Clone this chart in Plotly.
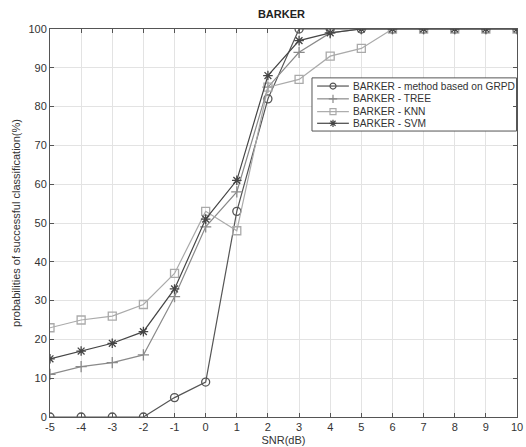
import plotly.graph_objects as go

snr = [-5, -4, -3, -2, -1, 0, 1, 2, 3, 4, 5, 6, 7, 8, 9, 10]
snr_labels = [str(v) for v in snr]
pct_ticks = [0, 10, 20, 30, 40, 50, 60, 70, 80, 90, 100]

grpd = [0, 0, 0, 0, 5, 9, 53, 82, 100, 100, 100, 100, 100, 100, 100, 100]
tree = [11, 13, 14, 16, 31, 49, 58, 85, 94, 99, 100, 100, 100, 100, 100, 100]
knn = [23, 25, 26, 29, 37, 53, 48, 85, 87, 93, 95, 100, 100, 100, 100, 100]
svm = [15, 17, 19, 22, 33, 51, 61, 88, 97, 99, 100, 100, 100, 100, 100, 100]

names = ["BARKER - method based on GRPD", "BARKER - TREE", "BARKER - KNN", "BARKER - SVM"]
values = [grpd, tree, knn, svm]
colors = ["#555555", "#8a8a8a", "#aaaaaa", "#454545"]
symbols = ["circle-open", "cross-thin-open", "square-open", "asterisk-open"]

FONT = "Liberation Sans, Arial"

fig = go.Figure()
for name, vals, color, sym in zip(names, values, colors, symbols):
    fig.add_trace(go.Scatter(
        x=snr, y=vals, name=name, mode="lines+markers", showlegend=False,
        line=dict(color=color, width=1.2),
        marker=dict(symbol=sym, size=8, color=color,
                    line=dict(color=color, width=1.3)),
    ))

# Compact legend box drawn on an overlay axis spanning the plot area (0..1)
box_x0, box_x1, box_y0, box_y1 = 0.561, 0.999, 0.737, 0.874
fig.add_trace(go.Scatter(
    x=[box_x0, box_x1, box_x1, box_x0, box_x0],
    y=[box_y0, box_y0, box_y1, box_y1, box_y0],
    xaxis="x2", yaxis="y2", mode="lines", fill="toself", fillcolor="white",
    line=dict(color="#555555", width=1), hoverinfo="skip", showlegend=False,
))
row_y = [0.853, 0.820, 0.787, 0.757]
for name, color, sym, ry in zip(names, colors, symbols, row_y):
    fig.add_trace(go.Scatter(
        x=[0.572, 0.640], y=[ry, ry], xaxis="x2", yaxis="y2", mode="lines",
        line=dict(color=color, width=1.2), hoverinfo="skip", showlegend=False,
    ))
    fig.add_trace(go.Scatter(
        x=[0.606], y=[ry], xaxis="x2", yaxis="y2", mode="markers",
        marker=dict(symbol=sym, size=6, color=color, line=dict(color=color, width=1.2)),
        hoverinfo="skip", showlegend=False,
    ))
    fig.add_annotation(
        x=0.644, y=ry, xref="paper", yref="paper", xanchor="left", yanchor="middle",
        text=name, showarrow=False,
        font=dict(family=FONT, size=10.2, color="#333333"),
    )

axis_common = dict(
    showgrid=True, gridcolor="#e3e3e3", gridwidth=1,
    showline=True, linecolor="#555555", linewidth=1, mirror="ticks",
    ticks="inside", ticklen=4, tickcolor="#555555",
    tickfont=dict(family=FONT, size=11, color="#333333"),
    zeroline=False, automargin=False,
)

fig.update_layout(
    width=526, height=447,
    margin=dict(l=50, r=9, t=29, b=30),
    paper_bgcolor="white", plot_bgcolor="white",
    showlegend=False,
    title=dict(text="<b>BARKER</b>", x=0.535, xanchor="center", y=0.977, yanchor="top",
               font=dict(family=FONT, size=11, color="#222222")),
    xaxis=dict(range=[-5, 10], tickmode="array", tickvals=snr, ticktext=snr_labels,
               title=dict(text="SNR(dB)", standoff=4,
                          font=dict(family=FONT, size=11, color="#333333")),
               **axis_common),
    yaxis=dict(range=[0, 100], tickmode="array", tickvals=pct_ticks,
               ticktext=[str(v) for v in pct_ticks],
               title=dict(text="probabilities of successful classification(%)", standoff=5,
                          font=dict(family=FONT, size=11, color="#333333")),
               **axis_common),
    xaxis2=dict(overlaying="x", range=[0, 1], visible=False, fixedrange=True),
    yaxis2=dict(overlaying="y", range=[0, 1], visible=False, fixedrange=True),
)

fig.write_html("out.html")
